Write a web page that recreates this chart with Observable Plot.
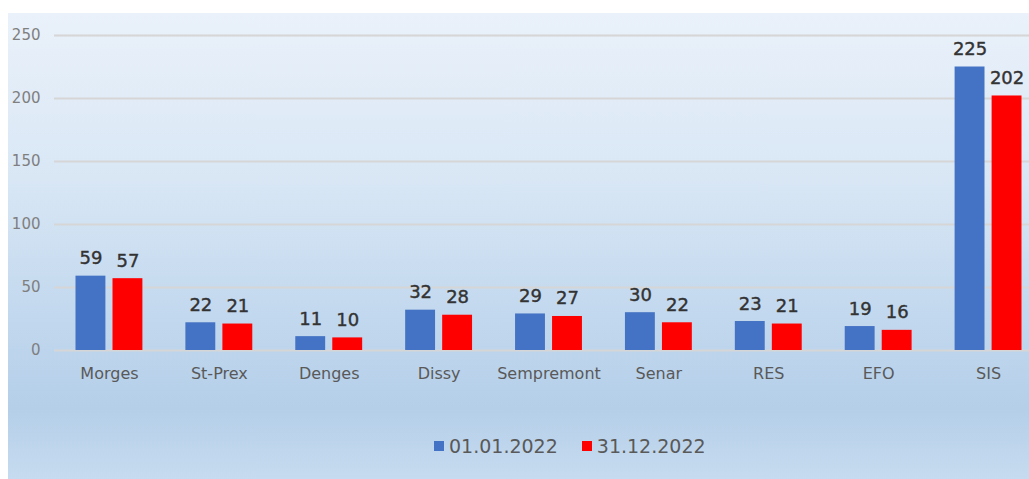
<!DOCTYPE html>
<html>
<head>
<meta charset="utf-8">
<script src="https://cdn.jsdelivr.net/npm/d3@7"></script>
<script src="https://cdn.jsdelivr.net/npm/@observablehq/plot@0.6"></script>
<style>
  html, body { margin: 0; padding: 0; background: #ffffff; overflow: hidden; }
  #panel {
    position: absolute; left: 8px; top: 13px; width: 1021px; height: 466px;
    background: linear-gradient(to bottom, #eaf1fa 0%, #d9e7f5 35%, #c2d8ee 65%, #b5cfe9 85%, #c6dbef 100%);
    font-family: "DejaVu Sans", sans-serif;
  }
  #legend {
    display: flex; justify-content: flex-start; align-items: center;
    height: 66px; padding-left: 426px; color: #595959; font-size: 19px;
  }
  .sw { display: inline-block; width: 10px; height: 10px; margin-right: 5px; }
  .item { display: flex; align-items: center; margin-right: 24px; }
</style>
</head>
<body>
<div id="panel"><div id="chart"></div><div id="legend"></div></div>
<script>
const categories = ["Morges", "St-Prex", "Denges", "Dissy", "Sempremont", "Senar", "RES", "EFO", "SIS"];
const valuesStart = [59, 22, 11, 32, 29, 30, 23, 19, 225];
const valuesEnd = [57, 21, 10, 28, 27, 22, 21, 16, 202];
const seriesNames = ["01.01.2022", "31.12.2022"];
const seriesColors = ["#4472c4", "#ff0000"];
const yTicks = [0, 50, 100, 150, 200, 250];

const rowsStart = categories.map((c, i) => ({category: c, series: seriesNames[0], value: valuesStart[i]}));
const rowsEnd = categories.map((c, i) => ({category: c, series: seriesNames[1], value: valuesEnd[i]}));

const chart = Plot.plot({
  width: 1021,
  height: 400,
  marginLeft: 46,
  marginRight: -14,
  marginTop: 22,
  marginBottom: 63,
  style: {background: "transparent", overflow: "visible", fontFamily: "DejaVu Sans, sans-serif", maxWidth: "none"},
  x: {domain: categories, padding: 0, round: false, label: null},
  y: {domain: [0, 250], label: null},
  color: {domain: seriesNames, range: seriesColors},
  marks: [
    Plot.ruleY(yTicks, {stroke: "#d6d6d6", strokeWidth: 2}),
    Plot.axisY(yTicks, {tickSize: 0, tickPadding: 14, fontSize: 15, color: "#7f7f7f", label: null}),
    Plot.axisX({tickSize: 0, tickPadding: 17, fontSize: 16, color: "#595959", label: null}),
    Plot.barY(rowsStart, {x: "category", y: "value", fill: "series", insetLeft: 21.5, insetRight: 58.5}),
    Plot.barY(rowsEnd, {x: "category", y: "value", fill: "series", insetLeft: 58.5, insetRight: 21.5}),
    Plot.text(rowsStart, {x: "category", y: "value", text: d => String(d.value), dx: -18.5, dy: -12, lineAnchor: "bottom", fontSize: 18, fill: "#333333", stroke: "#333333", strokeWidth: 0.4}),
    Plot.text(rowsEnd, {x: "category", y: "value", text: d => String(d.value), dx: 18.5, dy: -12, lineAnchor: "bottom", fontSize: 18, fill: "#333333", stroke: "#333333", strokeWidth: 0.4})
  ]
});
document.getElementById("chart").appendChild(chart);

const legend = document.getElementById("legend");
seriesNames.forEach((name, i) => {
  const item = document.createElement("span");
  item.className = "item";
  const sw = document.createElement("span");
  sw.className = "sw";
  sw.style.background = seriesColors[i];
  item.appendChild(sw);
  item.appendChild(document.createTextNode(name));
  legend.appendChild(item);
});
</script>
</body>
</html>
